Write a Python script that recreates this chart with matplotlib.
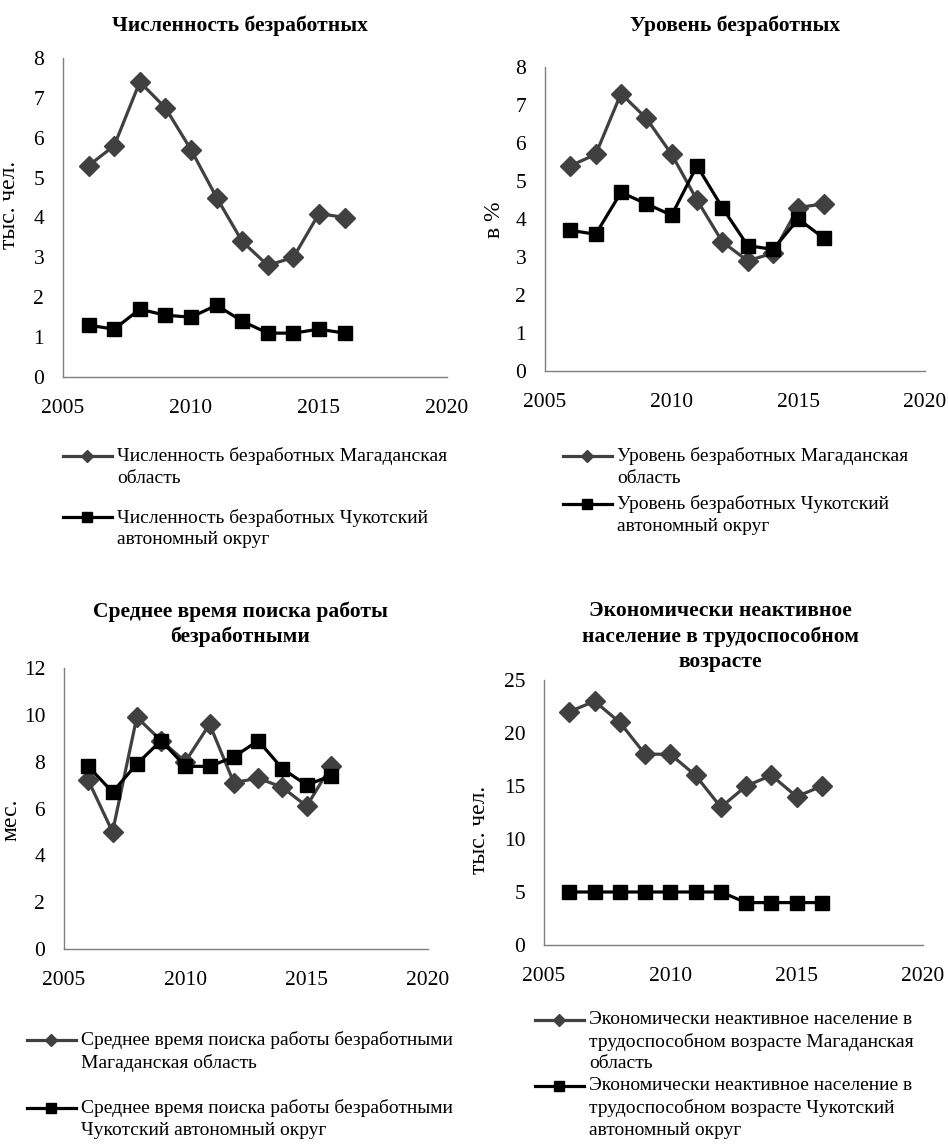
import matplotlib.pyplot as plt
from matplotlib.lines import Line2D
from matplotlib.offsetbox import HPacker

plt.rcParams['font.family'] = ['Liberation Serif', 'DejaVu Serif']

years = [2006, 2007, 2008, 2009, 2010, 2011, 2012, 2013, 2014, 2015, 2016]

unemp_mag = [5.3, 5.8, 7.4, 6.75, 5.7, 4.5, 3.4, 2.8, 3.0, 4.1, 4.0]
unemp_chu = [1.3, 1.2, 1.7, 1.55, 1.5, 1.8, 1.4, 1.1, 1.1, 1.2, 1.1]

rate_mag = [5.4, 5.7, 7.3, 6.65, 5.7, 4.5, 3.4, 2.9, 3.1, 4.3, 4.4]
rate_chu = [3.7, 3.6, 4.7, 4.4, 4.1, 5.4, 4.3, 3.3, 3.2, 4.0, 3.5]

search_mag = [7.2, 5.0, 9.9, 8.9, 8.0, 9.6, 7.1, 7.3, 6.9, 6.1, 7.8]
search_chu = [7.8, 6.7, 7.9, 8.9, 7.8, 7.8, 8.2, 8.9, 7.7, 7.0, 7.4]

inactive_mag = [22, 23, 21, 18, 18, 16, 13, 15, 16, 14, 15]
inactive_chu = [5, 5, 5, 5, 5, 5, 5, 4, 4, 4, 4]

x_ticks = [2005, 2010, 2015, 2020]

W, H = 948, 1146
MAG = '#404040'
CHU = '#000000'

fig = plt.figure(figsize=(W / 100, H / 100), dpi=100)


def px_axes(left, top, right, bottom):
    return fig.add_axes([left / W, 1 - bottom / H, (right - left) / W, (bottom - top) / H])


def panel(box, mag, chu, ylim, ystep, ylabel, ylab_xy, title, title_xy,
          labels, leg_xy, leg_space):
    ax = px_axes(*box)
    ax.plot(years, mag, color=MAG, lw=2.3, marker='D', ms=10, zorder=3)
    ax.plot(years, chu, color=CHU, lw=2.3, marker='s', ms=10, zorder=4)
    ax.set_xlim(2005, 2020)
    ax.set_ylim(0, ylim)
    ax.set_xticks(x_ticks)
    ax.set_yticks(range(0, ylim + 1, ystep))
    for s in ['top', 'right']:
        ax.spines[s].set_visible(False)
    for s in ['left', 'bottom']:
        ax.spines[s].set_color('#7f7f7f')
        ax.spines[s].set_linewidth(1.0)
    ax.tick_params(length=0, labelsize=15.5)
    ax.tick_params(axis='x', pad=16)
    ax.tick_params(axis='y', pad=13.5)
    ax.set_ylabel(ylabel, fontsize=17)
    lx = (ylab_xy[0] - box[0]) / (box[2] - box[0])
    ly = (box[3] - ylab_xy[1]) / (box[3] - box[1])
    ax.yaxis.set_label_coords(lx, ly)

    fig.text(title_xy[0] / W, 1 - title_xy[1] / H, title, ha='center', va='top',
             fontsize=15.5, fontweight='bold', linespacing=1.35)

    handles = [Line2D([], [], color=MAG, lw=2.3, marker='D', ms=6),
               Line2D([], [], color=CHU, lw=2.3, marker='s', ms=6.5)]
    leg = ax.legend(handles, labels, loc='upper left',
                    bbox_to_anchor=(leg_xy[0] / W, 1 - leg_xy[1] / H),
                    bbox_transform=fig.transFigure, frameon=False, fontsize=14,
                    handlelength=2.5, handleheight=1.3, handletextpad=0.3,
                    borderpad=0, borderaxespad=0, labelspacing=leg_space)
    for t in leg.get_texts():
        t.set_linespacing(1.35)
    # key line next to the first line of each label
    for hp in leg.findobj(lambda a: isinstance(a, HPacker)):
        hp.align = 'top'
    return ax


panel((63, 58, 447, 377), unemp_mag, unemp_chu, 8, 1, 'тыс. чел.', (20, 205),
      'Численность безработных', (240, 16),
      ['Численность безработных Магаданская\nобласть',
       'Численность безработных Чукотский\nавтономный округ'],
      (63, 447), 1.13)

panel((545, 67, 925, 371), rate_mag, rate_chu, 8, 1, 'в %', (505, 220),
      'Уровень безработных', (735, 16),
      ['Уровень безработных Магаданская\nобласть',
       'Уровень безработных Чукотский\nавтономный округ'],
      (563, 447), 0.46)

panel((64, 668, 428, 949), search_mag, search_chu, 12, 2, 'мес.', (21, 820),
      'Среднее время поиска работы\nбезработными', (240, 601),
      ['Среднее время поиска работы безработными\nМагаданская область',
       'Среднее время поиска работы безработными\nЧукотский автономный округ'],
      (27, 1031), 1.4)

panel((544, 680, 923, 945), inactive_mag, inactive_chu, 25, 5, 'тыс. чел.', (490, 830),
      'Экономически неактивное\nнаселение в трудоспособном\nвозрасте', (720, 601),
      ['Экономически неактивное население в\nтрудоспособном возрасте Магаданская\nобласть',
       'Экономически неактивное население в\nтрудоспособном возрасте Чукотский\nавтономный округ'],
      (535, 1011), 0.25)

fig.savefig('out.png', dpi=100)
